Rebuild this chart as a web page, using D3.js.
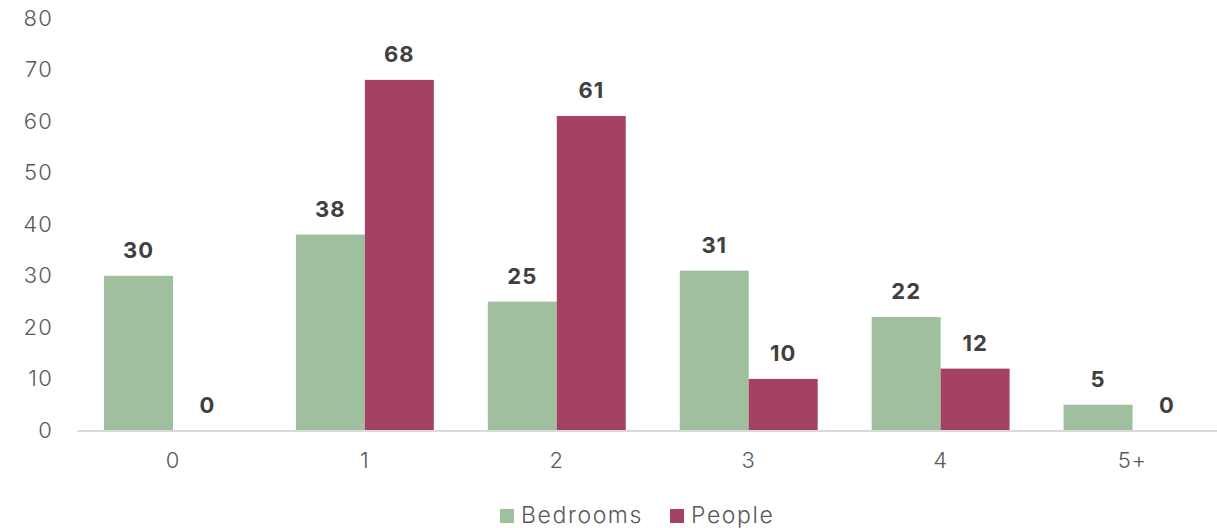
<!DOCTYPE html>
<html>
<head>
<meta charset="utf-8">
<script src="https://cdn.jsdelivr.net/npm/d3@7"></script>
<style>
  html, body { margin: 0; padding: 0; background: #fff; }
  svg { display: block; font-family: "Inter", "Lato", sans-serif; }
</style>
</head>
<body>
<svg id="chart" width="1217" height="528"></svg>
<script>
// Household counts by number of bedrooms and number of people
const categories = ["0", "1", "2", "3", "4", "5+"];
const seriesNames = ["Bedrooms", "People"];
const bedrooms = [30, 38, 25, 31, 22, 5];
const people = [0, 68, 61, 10, 12, 0];
const yTicks = [0, 10, 20, 30, 40, 50, 60, 70, 80];
const colors = ["#9fbf9f", "#a64166"];

const W = 1217, H = 528;
const margin = { left: 77, right: -11.5, top: 18, bottom: 97.5 };
const svg = d3.select("#chart");

const x = d3.scaleBand()
  .domain(categories)
  .range([margin.left, W - margin.right])
  .paddingInner(54 / 192)
  .paddingOuter(27 / 192);

const x1 = d3.scaleBand()
  .domain(seriesNames)
  .range([0, x.bandwidth()]);

const y = d3.scaleLinear()
  .domain([0, 80])
  .range([H - margin.bottom, margin.top]);

const rows = categories.map((c, i) => ({ cat: c, values: [bedrooms[i], people[i]] }));

// bars
const groups = svg.append("g").selectAll("g")
  .data(rows)
  .join("g")
  .attr("transform", d => `translate(${x(d.cat)},0)`);

groups.selectAll("rect")
  .data(d => d.values.map((v, k) => ({ name: seriesNames[k], v, k })))
  .join("rect")
  .attr("x", d => x1(d.name))
  .attr("width", x1.bandwidth())
  .attr("y", d => y(d.v))
  .attr("height", d => y(0) - y(d.v))
  .attr("fill", d => colors[d.k]);

// value labels
groups.selectAll("text")
  .data(d => d.values.map((v, k) => ({ name: seriesNames[k], v, k })))
  .join("text")
  .attr("x", d => x1(d.name) + x1.bandwidth() / 2)
  .attr("y", d => y(d.v) - 18)
  .attr("text-anchor", "middle")
  .attr("font-size", 22)
  .attr("font-weight", 700)
  .attr("letter-spacing", 1)
  .attr("fill", "#404040")
  .text(d => d.v);

// y axis labels (no axis line)
const yAxis = svg.append("g")
  .attr("transform", `translate(${margin.left},0)`)
  .call(d3.axisLeft(y).tickValues(yTicks).tickSize(0).tickPadding(24));
yAxis.select(".domain").remove();
yAxis.selectAll("text")
  .attr("font-size", 22)
  .attr("font-weight", 300)
  .attr("letter-spacing", 1.2)
  .attr("font-family", "Inter, Lato, sans-serif")
  .attr("fill", "#595959");

// x axis
const xAxis = svg.append("g")
  .attr("transform", `translate(0,${y(0)})`)
  .call(d3.axisBottom(x).tickSize(0).tickPadding(22));
xAxis.select(".domain")
  .attr("stroke", "#d9d9d9")
  .attr("stroke-width", 2);
xAxis.selectAll("text")
  .attr("font-size", 22)
  .attr("font-weight", 300)
  .attr("letter-spacing", 1)
  .attr("font-family", "Inter, Lato, sans-serif")
  .attr("fill", "#595959");

// legend
const legend = svg.append("g");
const legendItems = [
  { name: seriesNames[0], color: colors[0], x: 500 },
  { name: seriesNames[1], color: colors[1], x: 670 }
];
legendItems.forEach(it => {
  legend.append("rect")
    .attr("x", it.x).attr("y", 509)
    .attr("width", 14).attr("height", 14)
    .attr("fill", it.color);
  legend.append("text")
    .attr("x", it.x + 21).attr("y", 523)
    .attr("font-size", 23)
    .attr("font-weight", 300)
    .attr("letter-spacing", 1.6)
    .attr("fill", "#595959")
    .text(it.name);
});
</script>
</body>
</html>
